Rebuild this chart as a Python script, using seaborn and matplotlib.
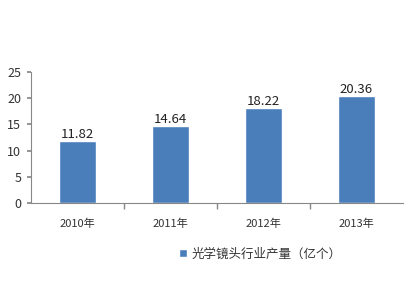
import matplotlib
matplotlib.use("Agg")
import matplotlib.pyplot as plt
import seaborn as sns
import pandas as pd

years = ["2010年", "2011年", "2012年", "2013年"]
values = [11.82, 14.64, 18.22, 20.36]
series_name = "光学镜头行业产量（亿个）"
yticks = [0, 5, 10, 15, 20, 25]

sns.set_theme(style="white")
plt.rcParams['font.family'] = ['Noto Sans CJK SC', 'DejaVu Sans']

df = pd.DataFrame({"year": years, "value": values})

fig = plt.figure(figsize=(4.2, 3.0), dpi=100)
ax = fig.add_axes([0.0738, 0.3233, 0.8857, 0.4367])
sns.barplot(data=df, x="year", y="value", color="#4A7EBB", saturation=1,
            width=0.4, ax=ax, label=series_name)

ax.set_ylim(0, 25)
ax.set_xlim(-0.5, 3.5)
ax.set_yticks(yticks)
ax.set_xlabel("")
ax.set_ylabel("")
for s in ["top", "right"]:
    ax.spines[s].set_visible(False)
for s in ["left", "bottom"]:
    ax.spines[s].set_color("#888888")
    ax.spines[s].set_linewidth(0.8)

ax.tick_params(axis="y", left=True, length=3, color="#888888", labelsize=9,
               labelcolor="#333333", pad=4)
ax.tick_params(axis="x", bottom=False, labelsize=8, labelcolor="#333333", pad=5)
# category separator ticks
ax.set_xticks([0.5, 1.5, 2.5], minor=True)
ax.tick_params(axis="x", which="minor", bottom=True, length=4, color="#888888")

for c in ax.containers:
    ax.bar_label(c, fmt="%.2f", fontsize=9.5, color="#222222", padding=0)

leg = ax.legend(loc="center", bbox_to_anchor=(0.62, 0.153), bbox_transform=fig.transFigure,
                frameon=False, fontsize=9, handlelength=0.6, handleheight=0.6,
                handletextpad=0.4)
for t in leg.get_texts():
    t.set_color("#333333")

fig.savefig("out.png", dpi=100)
